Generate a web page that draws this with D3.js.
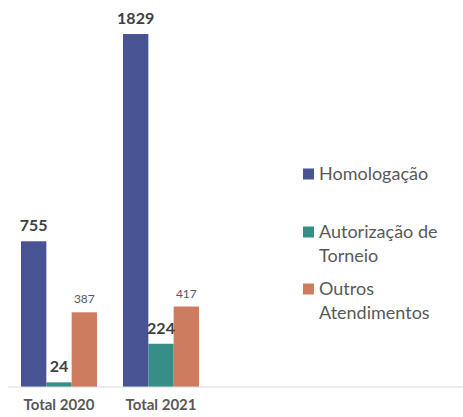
<!DOCTYPE html>
<html>
<head>
<meta charset="utf-8">
<script src="https://cdn.jsdelivr.net/npm/d3@7"></script>
<style>
  body { margin: 0; background: #fff; }
  svg { display: block; }
</style>
</head>
<body>
<div id="chart"></div>
<script>
const categories = ["Total 2020", "Total 2021"]
const series = ["Homologação", "Autorização de Torneio", "Outros Atendimentos"]
const legendLines = [["Homologação"], ["Autorização de", "Torneio"], ["Outros", "Atendimentos"]]
const homologacao = [755, 1829]
const autorizacao = [24, 224]
const outros = [387, 417]

const colors = ["#475393", "#368e87", "#cd7c5f"]
const values = [homologacao, autorizacao, outros]

const WIDTH = 463, HEIGHT = 417
const FONT = "Lato, 'Open Sans', sans-serif"

const svg = d3.select("#chart").append("svg")
  .attr("width", WIDTH)
  .attr("height", HEIGHT)

// scales
const x0 = d3.scaleBand().domain(categories).range([8, 212])
  .paddingInner(0.255).paddingOuter(0.1275)
const x1 = d3.scaleBand().domain(series).range([0, x0.bandwidth()])
const y = d3.scaleLinear().domain([0, 1829]).range([387, 34])

const rows = []
categories.forEach((c, i) => {
  series.forEach((s, j) => {
    rows.push({ cat: c, ser: s, value: values[j][i], color: colors[j], idx: j })
  })
})

// bars
svg.append("g").selectAll("rect")
  .data(rows)
  .join("rect")
    .attr("x", d => x0(d.cat) + x1(d.ser))
    .attr("y", d => y(d.value))
    .attr("width", x1.bandwidth())
    .attr("height", d => y(0) - y(d.value))
    .attr("fill", d => d.color)

// baseline
svg.append("line")
  .attr("x1", 8).attr("x2", WIDTH)
  .attr("y1", y(0)).attr("y2", y(0))
  .attr("stroke", "#d9d9d9")
  .attr("stroke-width", 1)

// value labels
svg.append("g").selectAll("text")
  .data(rows)
  .join("text")
    .attr("x", d => x0(d.cat) + x1(d.ser) + x1.bandwidth() / 2)
    .attr("y", d => y(d.value) - (d.idx === 2 ? 9 : 10))
    .attr("text-anchor", "middle")
    .attr("font-family", FONT)
    .attr("font-size", d => d.idx === 2 ? 12 : 16)
    .attr("font-weight", d => d.idx === 2 ? "normal" : "bold")
    .attr("fill", d => d.idx === 2 ? "#595959" : "#404040")
    .text(d => d.value)

// x axis labels
const xAxis = d3.axisBottom(x0).tickSize(0).tickPadding(12)
svg.append("g")
  .attr("transform", `translate(0, ${y(0)})`)
  .call(xAxis)
  .call(g => g.select(".domain").remove())
  .selectAll("text")
    .attr("font-family", FONT)
    .attr("font-size", 15)
    .attr("font-weight", "bold")
    .attr("fill", "#595959")

// legend
const legendY = [174, 232, 289]
const legend = svg.append("g").selectAll("g")
  .data(series)
  .join("g")
    .attr("transform", (d, i) => `translate(303, ${legendY[i]})`)

legend.append("rect")
  .attr("x", 0).attr("y", -5.5)
  .attr("width", 11).attr("height", 11)
  .attr("fill", (d, i) => colors[i])

legend.append("text")
  .attr("font-family", FONT)
  .attr("font-size", 18)
  .attr("fill", "#595959")
  .selectAll("tspan")
  .data((d, i) => legendLines[i])
  .join("tspan")
    .attr("x", 16)
    .attr("y", (d, k) => k * 24)
    .attr("dy", "0.35em")
    .text(d => d)
</script>
</body>
</html>
